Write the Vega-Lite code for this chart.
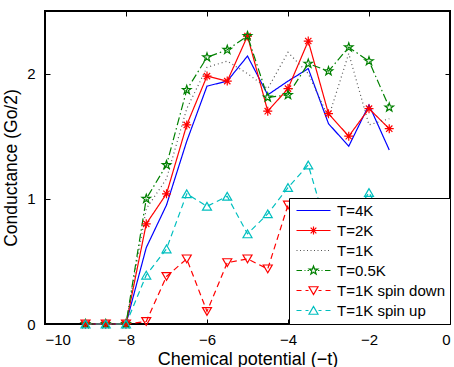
{
  "$schema": "https://vega.github.io/schema/vega-lite/v6.json",
  "width": 405,
  "height": 313,
  "autosize": "none",
  "padding": {"left": 45, "top": 11, "right": 4, "bottom": 43},
  "config": {
    "font": "Liberation Sans",
    "view": {"stroke": "black", "strokeWidth": 2},
    "axis": {"grid": false, "domain": false, "tickColor": "black", "tickSize": -5, "tickWidth": 1, "labelColor": "black", "titleColor": "black", "labelFontSize": 15, "titleFontSize": 18, "titleFontWeight": "normal", "labelFont": "Liberation Sans", "titleFont": "Liberation Sans"},
    "legend": {"orient": "bottom-right", "offset": 0, "title": null, "fillColor": "white", "strokeColor": "black", "padding": 5, "rowPadding": 4, "labelFontSize": 15, "labelColor": "black", "labelFont": "Liberation Sans", "symbolSize": 100, "symbolStrokeWidth": 1.2, "symbolOpacity": 1, "symbolOffset": 12, "labelOffset": 16, "labelLimit": 300}
  },
  "data": {"values": [
    {"series": "T=4K", "mu": -9, "G": 0}, {"series": "T=4K", "mu": -8.5, "G": 0}, {"series": "T=4K", "mu": -8, "G": 0}, {"series": "T=4K", "mu": -7.5, "G": 0.61}, {"series": "T=4K", "mu": -7, "G": 0.95}, {"series": "T=4K", "mu": -6.5, "G": 1.46}, {"series": "T=4K", "mu": -6, "G": 1.9}, {"series": "T=4K", "mu": -5.5, "G": 1.94}, {"series": "T=4K", "mu": -5, "G": 2.14}, {"series": "T=4K", "mu": -4.5, "G": 1.83}, {"series": "T=4K", "mu": -4, "G": 1.94}, {"series": "T=4K", "mu": -3.5, "G": 2.04}, {"series": "T=4K", "mu": -3, "G": 1.6}, {"series": "T=4K", "mu": -2.5, "G": 1.42}, {"series": "T=4K", "mu": -2, "G": 1.75}, {"series": "T=4K", "mu": -1.5, "G": 1.39},
    {"series": "T=2K", "mu": -9, "G": 0}, {"series": "T=2K", "mu": -8.5, "G": 0}, {"series": "T=2K", "mu": -8, "G": 0}, {"series": "T=2K", "mu": -7.5, "G": 0.8}, {"series": "T=2K", "mu": -7, "G": 1.04}, {"series": "T=2K", "mu": -6.5, "G": 1.59}, {"series": "T=2K", "mu": -6, "G": 1.98}, {"series": "T=2K", "mu": -5.5, "G": 1.94}, {"series": "T=2K", "mu": -5, "G": 2.3}, {"series": "T=2K", "mu": -4.5, "G": 1.7}, {"series": "T=2K", "mu": -4, "G": 1.88}, {"series": "T=2K", "mu": -3.5, "G": 2.26}, {"series": "T=2K", "mu": -3, "G": 1.68}, {"series": "T=2K", "mu": -2.5, "G": 1.5}, {"series": "T=2K", "mu": -2, "G": 1.72}, {"series": "T=2K", "mu": -1.5, "G": 1.56},
    {"series": "T=1K", "mu": -9, "G": 0}, {"series": "T=1K", "mu": -8.5, "G": 0}, {"series": "T=1K", "mu": -8, "G": 0}, {"series": "T=1K", "mu": -7.5, "G": 0.92}, {"series": "T=1K", "mu": -7, "G": 1.16}, {"series": "T=1K", "mu": -6.5, "G": 1.72}, {"series": "T=1K", "mu": -6, "G": 2.05}, {"series": "T=1K", "mu": -5.5, "G": 2.1}, {"series": "T=1K", "mu": -5, "G": 2.0}, {"series": "T=1K", "mu": -4.5, "G": 1.88}, {"series": "T=1K", "mu": -4, "G": 2.17}, {"series": "T=1K", "mu": -3.5, "G": 2.0}, {"series": "T=1K", "mu": -3, "G": 1.65}, {"series": "T=1K", "mu": -2.5, "G": 2.16}, {"series": "T=1K", "mu": -2, "G": 1.59}, {"series": "T=1K", "mu": -1.5, "G": 1.64},
    {"series": "T=0.5K", "mu": -9, "G": 0}, {"series": "T=0.5K", "mu": -8.5, "G": 0}, {"series": "T=0.5K", "mu": -8, "G": 0}, {"series": "T=0.5K", "mu": -7.5, "G": 1.0}, {"series": "T=0.5K", "mu": -7, "G": 1.27}, {"series": "T=0.5K", "mu": -6.5, "G": 1.87}, {"series": "T=0.5K", "mu": -6, "G": 2.13}, {"series": "T=0.5K", "mu": -5.5, "G": 2.19}, {"series": "T=0.5K", "mu": -5, "G": 2.3}, {"series": "T=0.5K", "mu": -4.5, "G": 1.81}, {"series": "T=0.5K", "mu": -4, "G": 1.83}, {"series": "T=0.5K", "mu": -3.5, "G": 2.08}, {"series": "T=0.5K", "mu": -3, "G": 2.02}, {"series": "T=0.5K", "mu": -2.5, "G": 2.21}, {"series": "T=0.5K", "mu": -2, "G": 2.1}, {"series": "T=0.5K", "mu": -1.5, "G": 1.73},
    {"series": "T=1K spin down", "mu": -9, "G": 0}, {"series": "T=1K spin down", "mu": -8.5, "G": 0}, {"series": "T=1K spin down", "mu": -8, "G": 0}, {"series": "T=1K spin down", "mu": -7.5, "G": 0.02}, {"series": "T=1K spin down", "mu": -7, "G": 0.38}, {"series": "T=1K spin down", "mu": -6.5, "G": 0.52}, {"series": "T=1K spin down", "mu": -6, "G": 0.1}, {"series": "T=1K spin down", "mu": -5.5, "G": 0.49}, {"series": "T=1K spin down", "mu": -5, "G": 0.52}, {"series": "T=1K spin down", "mu": -4.5, "G": 0.44}, {"series": "T=1K spin down", "mu": -4, "G": 0.95}, {"series": "T=1K spin down", "mu": -3.5, "G": 0.75}, {"series": "T=1K spin down", "mu": -3, "G": 0.6}, {"series": "T=1K spin down", "mu": -2.5, "G": 0.7}, {"series": "T=1K spin down", "mu": -2, "G": 0.65}, {"series": "T=1K spin down", "mu": -1.5, "G": 0.55},
    {"series": "T=1K spin up", "mu": -9, "G": 0}, {"series": "T=1K spin up", "mu": -8.5, "G": 0}, {"series": "T=1K spin up", "mu": -8, "G": 0}, {"series": "T=1K spin up", "mu": -7.5, "G": 0.39}, {"series": "T=1K spin up", "mu": -7, "G": 0.6}, {"series": "T=1K spin up", "mu": -6.5, "G": 1.04}, {"series": "T=1K spin up", "mu": -6, "G": 0.94}, {"series": "T=1K spin up", "mu": -5.5, "G": 1.02}, {"series": "T=1K spin up", "mu": -5, "G": 0.72}, {"series": "T=1K spin up", "mu": -4.5, "G": 0.88}, {"series": "T=1K spin up", "mu": -4, "G": 1.09}, {"series": "T=1K spin up", "mu": -3.5, "G": 1.27}, {"series": "T=1K spin up", "mu": -3, "G": 0.72}, {"series": "T=1K spin up", "mu": -2.5, "G": 0.8}, {"series": "T=1K spin up", "mu": -2, "G": 1.05}, {"series": "T=1K spin up", "mu": -1.5, "G": 0.75}
  ]},
  "layer": [
    {
      "mark": {"type": "line", "strokeWidth": 1.2},
      "encoding": {
        "x": {"field": "mu", "type": "quantitative", "scale": {"domain": [-10, 0], "nice": false, "zero": false}, "axis": {"values": [-10, -8, -6, -4, -2, 0], "title": "Chemical potential (−t)", "labelPadding": 13, "titlePadding": 3}},
        "y": {"field": "G", "type": "quantitative", "scale": {"domain": [0, 2.5], "nice": false}, "axis": {"values": [0, 1, 2], "title": "Conductance (Go/2)", "labelPadding": 15, "titlePadding": 6, "titleFontSize": 17.5}},
        "color": {"field": "series", "type": "nominal", "scale": {"domain": ["T=4K", "T=2K", "T=1K", "T=0.5K", "T=1K spin down", "T=1K spin up"], "range": ["#0000ff", "#ff0000", "#555555", "#008000", "#ff0000", "#00bfbf"]}, "legend": null},
        "strokeDash": {"field": "series", "type": "nominal", "scale": {"domain": ["T=4K", "T=2K", "T=1K", "T=0.5K", "T=1K spin down", "T=1K spin up"], "range": [[1, 0], [1, 0], [1, 3], [8, 3, 1.5, 3], [6, 4], [6, 4]]}, "legend": null}
      }
    },
    {
      "transform": [{"filter": {"field": "series", "oneOf": ["T=2K", "T=0.5K", "T=1K spin down", "T=1K spin up"]}}],
      "mark": {"type": "point", "filled": false, "size": 81, "strokeWidth": 1.2, "opacity": 1},
      "encoding": {
        "x": {"field": "mu", "type": "quantitative", "axis": {"orient": "top", "values": [-10, -8, -6, -4, -2, 0], "labels": false, "title": null}},
        "y": {"field": "G", "type": "quantitative", "axis": {"orient": "right", "values": [0, 1, 2], "labels": false, "title": null}},
        "color": {"field": "series", "type": "nominal", "scale": {"domain": ["T=4K", "T=2K", "T=1K", "T=0.5K", "T=1K spin down", "T=1K spin up"], "range": ["#0000ff", "#ff0000", "#555555", "#008000", "#ff0000", "#00bfbf"]}, "legend": null},
        "shape": {"field": "series", "type": "nominal", "scale": {"domain": ["T=2K", "T=0.5K", "T=1K spin down", "T=1K spin up"], "range": ["M-1,0H1M0,-1V1M-0.7,-0.7L0.7,0.7M-0.7,0.7L0.7,-0.7", "M0,-1L0.235,-0.324L0.951,-0.309L0.38,0.124L0.588,0.809L0,0.4L-0.588,0.809L-0.38,0.124L-0.951,-0.309L-0.235,-0.324Z", "triangle-down", "triangle-up"]}, "legend": null}
      }
    },
    {
      "mark": {"type": "point", "filled": false, "size": 100, "opacity": 0},
      "encoding": {
        "x": {"field": "mu", "type": "quantitative", "axis": null},
        "y": {"field": "G", "type": "quantitative", "axis": null},
        "color": {"field": "series", "type": "nominal", "scale": {"domain": ["T=4K", "T=2K", "T=1K", "T=0.5K", "T=1K spin down", "T=1K spin up"], "range": ["#0000ff", "#ff0000", "#555555", "#008000", "#ff0000", "#00bfbf"]}, "legend": {"orient": "bottom-right", "offset": 0, "title": null, "padding": 5, "rowPadding": 4, "labelFontSize": 15, "symbolSize": 100, "symbolOffset": 12, "labelOffset": 16, "fillColor": "white", "strokeColor": "black", "encode": {"legend": {"update": {"strokeWidth": {"value": 2}}}}}},
        "shape": {"field": "series", "type": "nominal", "scale": {"domain": ["T=4K", "T=2K", "T=1K", "T=0.5K", "T=1K spin down", "T=1K spin up"], "range": [
          "M-3.4,0H3.4",
          "M-3.4,0H3.4M0,-0.8V0.8M-0.57,-0.57L0.57,0.57M-0.57,0.57L0.57,-0.57",
          "M-3.4,0H-3.2M-2.7,0H-2.5M-2,0H-1.8M-1.3,0H-1.1M-0.6,0H-0.4M0.1,0H0.3M0.8,0H1M1.5,0H1.7M2.2,0H2.4M2.9,0H3.1",
          "M-3.4,0H-2.3M-1.8,0H-1.6M-1.2,0H-0.9M0.9,0H1.2M1.6,0H1.8M2.3,0H3.4M0,-0.9L0.212,-0.291L0.856,-0.278L0.342,0.111L0.529,0.728L0,0.36L-0.529,0.728L-0.342,0.111L-0.856,-0.278L-0.212,-0.291Z",
          "M-3.4,0H-2.4M-1.6,0H-1M1,0H1.6M2.4,0H3.4M-0.9,-0.75L0.9,-0.75L0,0.8Z",
          "M-3.4,0H-2.4M-1.6,0H-1M1,0H1.6M2.4,0H3.4M-0.9,0.75L0.9,0.75L0,-0.8Z"
        ]}, "legend": {"orient": "bottom-right", "offset": 0, "title": null, "padding": 5, "rowPadding": 4, "labelFontSize": 15, "symbolSize": 100, "symbolOffset": 12, "labelOffset": 16, "fillColor": "white", "strokeColor": "black", "encode": {"legend": {"update": {"strokeWidth": {"value": 2}}}}}}
      }
    }
  ],
  "resolve": {"scale": {"color": "independent", "shape": "independent", "strokeDash": "independent"}, "axis": {"x": "independent", "y": "independent"}}
}
